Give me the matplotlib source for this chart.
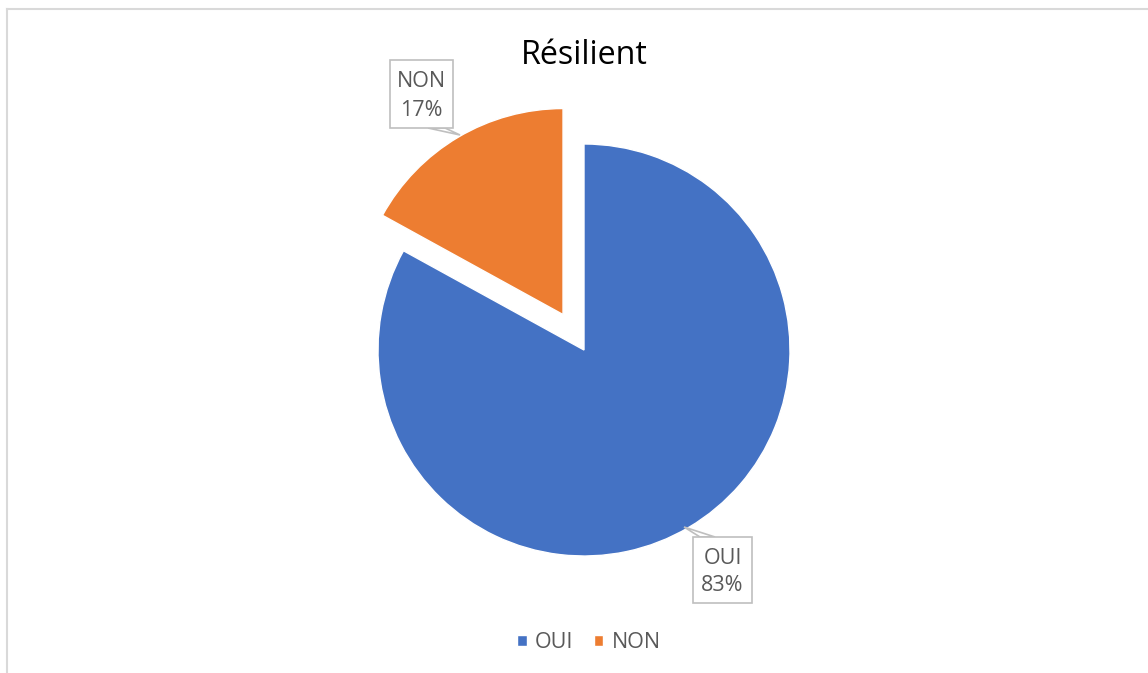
import matplotlib
matplotlib.use('Agg')
import matplotlib.pyplot as plt
from matplotlib.patches import Rectangle
from matplotlib.lines import Line2D

# data
labels = ['OUI', 'NON']
values = [83, 17]
colors = ['#4472C4', '#ED7D31']
explode = [0, 0.2]   # fraction of radius
title = 'Résilient'

W, H = 1148, 673
R = 206
def Y(y):
    # pixel row (top down) -> data y (bottom up)
    return H - y

plt.rcParams['font.family'] = ['Open Sans', 'DejaVu Sans']

fig = plt.figure(figsize=(W/100., H/100.), dpi=100)
ax = fig.add_axes([0, 0, 1, 1])

# pie explode is in data units, so scale by radius
wedges, _ = ax.pie(values, colors=colors, explode=[e*R for e in explode], startangle=90,
                   counterclock=False, center=(584, Y(350)), radius=R,
                   wedgeprops=dict(edgecolor='white', linewidth=1))
ax.set_xlim(0, W)
ax.set_ylim(0, H)
ax.set_aspect('equal')
ax.axis('off')

# chart border (left and top visible)
fig.add_artist(Line2D([7/W, 7/W], [0, 1 - 9/H], color='#D9D9D9', lw=1.5))
fig.add_artist(Line2D([7/W, 1], [1 - 9/H, 1 - 9/H], color='#D9D9D9', lw=1.5))

ax.text(584, Y(55), title, ha='center', va='center', fontsize=23.2, color='black')

# data label callouts: box (x0, y0, x1, y1) in pixels, leader polygon
boxes = [(693, 537, 752, 603), (390, 60, 453, 128)]
tips = [[(700, 537), (715, 537), (684, 527)], [(428, 128), (445, 128), (460, 135)]]
total = float(sum(values))
for lab, v, b, t in zip(labels, values, boxes, tips):
    x0, y0, x1, y1 = b
    ax.add_patch(Rectangle((x0, Y(y1)), x1 - x0, y1 - y0, facecolor='white',
                           edgecolor='#BFBFBF', lw=1.2, zorder=5))
    ax.fill([p[0] for p in t], [Y(p[1]) for p in t], facecolor='white',
            edgecolor='#BFBFBF', lw=1.2, zorder=4)
    ax.text((x0 + x1)/2., Y(y0 + (y1 - y0)*0.32), lab, ha='center', va='center',
            fontsize=15.5, color='#595959', zorder=6)
    ax.text((x0 + x1)/2., Y(y0 + (y1 - y0)*0.74), '%d%%' % round(100*v/total),
            ha='center', va='center', fontsize=15.5, color='#595959', zorder=6)

leg = fig.legend(wedges, labels, loc='center', bbox_to_anchor=(589/W, 1 - 643/H),
                 ncol=2, frameon=False, fontsize=15.5, handlelength=0.42,
                 handleheight=0.42, handletextpad=0.37, columnspacing=1.0)
for t in leg.get_texts():
    t.set_color('#595959')

fig.savefig('out.png', dpi=100)
